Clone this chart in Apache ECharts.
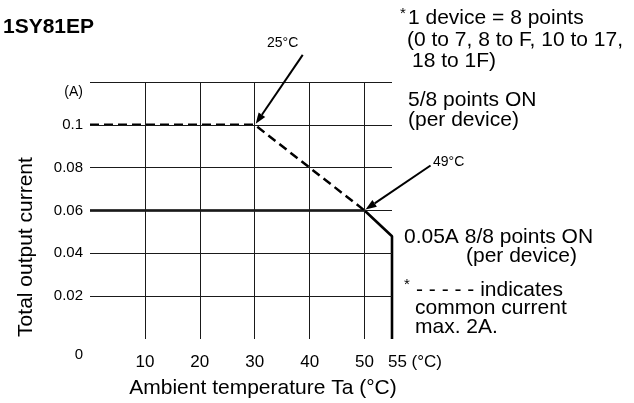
<!DOCTYPE html>
<html><head><meta charset="utf-8">
<script src="https://cdn.jsdelivr.net/npm/echarts@6/dist/echarts.min.js"></script>
<style>html,body{margin:0;padding:0;background:#fff}#c{width:634px;height:403px}</style>
</head><body><div id="c"></div>
<script>
// ---- data ----
const xGridValues = [10, 20, 30, 40, 50];
const yGridValues = [0.02, 0.04, 0.06, 0.08, 0.1, 0.12];
const fiveEightX = [0, 30, 50];          // 5/8 points ON (dashed)
const fiveEightY = [0.1, 0.1, 0.06];
const eightEightX = [0, 50, 55, 55];     // 8/8 points ON (solid)
const eightEightY = [0.06, 0.06, 0.048, 0];
const calloutLabels = ['25°C', '49°C'];
const calloutX = [30, 50];
const calloutY = [0.1, 0.06];

const FONT = '"Liberation Sans", Arial, sans-serif';
const chart = echarts.init(document.getElementById('c'));

function pairs(xs, ys) { return xs.map((x, i) => [x, ys[i]]); }

const gridLines = [];
yGridValues.forEach(v => gridLines.push([{coord: [0, v]}, {coord: [55, v]}]));
xGridValues.forEach(v => gridLines.push([{coord: [v, 0]}, {coord: [v, 0.12]}]));

function yFmt(v) {
  const r = Math.round(v * 100) / 100;
  if (r === 0) return '{z|0}';
  if (r === 0.12) return '{a|(A)}';
  return String(r);
}
function xFmt(v) {
  if (v === 55) return '{r|55 (°C)}';
  if (v > 0 && v % 10 === 0) return String(v);
  return '';
}

chart.setOption({
  animation: false,
  backgroundColor: '#fff',
  grid: {left: 90, right: 242, top: 82, bottom: 64},
  xAxis: {
    type: 'value', min: 0, max: 55, interval: 5,
    axisLine: {show: false}, axisTick: {show: false}, splitLine: {show: false},
    axisLabel: {
      formatter: xFmt, margin: 15, color: '#000', fontSize: 17, fontFamily: FONT,
      rich: {r: {fontSize: 17, fontFamily: FONT, color: '#000', padding: [0, 0, 0, 46]}}
    }
  },
  yAxis: {
    type: 'value', min: 0, max: 0.12, interval: 0.02,
    axisLine: {show: false}, axisTick: {show: false}, splitLine: {show: false},
    axisLabel: {
      formatter: yFmt, margin: 7, color: '#000', fontSize: 15, fontFamily: FONT,
      rich: {
        a: {fontSize: 14, fontFamily: FONT, color: '#000', padding: [20, 0, 0, 0]},
        z: {fontSize: 15, fontFamily: FONT, color: '#000', padding: [32, 0, 0, 0]}
      }
    }
  },
  series: [
    {
      type: 'line', data: [[0, 0]], showSymbol: false, silent: true, z: 1,
      lineStyle: {width: 0},
      markLine: {
        silent: true, symbol: ['none', 'none'], label: {show: false},
        lineStyle: {color: '#1a1a1a', width: 1, type: 'solid'},
        emphasis: {disabled: true},
        data: gridLines
      }
    },
    {
      type: 'line', data: [[fiveEightX[0], fiveEightY[0]], [fiveEightX[1] - 0.7, fiveEightY[1]]],
      showSymbol: false, silent: true, z: 2,
      lineStyle: {color: '#fff', width: 8}
    },
    {
      type: 'line', data: pairs(fiveEightX, fiveEightY), showSymbol: false, silent: true, z: 3,
      lineStyle: {color: '#000', width: 2.5, type: [9, 5]}
    },
    {
      type: 'line', data: pairs(eightEightX, eightEightY), showSymbol: false, silent: true, z: 3,
      lineStyle: {color: '#000', width: 2.6, type: 'solid'}
    }
  ]
});

// ---- annotations ----
const txt = (x, y, text, size, extra) => Object.assign({
  type: 'text', x: x, y: y, z: 10,
  style: Object.assign({text: text, fill: '#000', font: size + 'px ' + FONT, align: 'left', verticalAlign: 'middle'}, extra || {})
});

function arrow(head, dx, dy) {
  const tx = head[0] + dx, ty = head[1] + dy;
  const len = Math.hypot(dx, dy);
  const ux = -dx / len, uy = -dy / len; // direction tail->head
  const L = 11, W = 4;
  const bx = head[0] - ux * L, by = head[1] - uy * L;
  const px = -uy, py = ux;
  return [
    {type: 'line', z: 10, shape: {x1: tx, y1: ty, x2: bx, y2: by}, style: {stroke: '#000', lineWidth: 2}},
    {type: 'polygon', z: 10, shape: {points: [[head[0], head[1]], [bx + px * W, by + py * W], [bx - px * W, by - py * W]]}, style: {fill: '#000'}}
  ];
}

const tailOffsets = [[47, -69], [65, -44]];
const labelPos = [[267, 43], [433, 162]];
const g = [];
calloutLabels.forEach((lab, i) => {
  const p = chart.convertToPixel({gridIndex: 0}, [calloutX[i], calloutY[i]]);
  arrow([p[0] + 1, p[1] - 1], tailOffsets[i][0], tailOffsets[i][1]).forEach(e => g.push(e));
  g.push(txt(labelPos[i][0], labelPos[i][1], lab, 14));
});

g.push(txt(3, 27, '1SY81EP', 21, {font: 'bold 21px ' + FONT}));
g.push(txt(400, 14, '*', 15));
g.push(txt(408, 18, '1 device = 8 points', 21));
g.push(txt(407, 40, '(0 to 7, 8 to F, 10 to 17,', 21));
g.push(txt(412, 61, '18 to 1F)', 21));
g.push(txt(408, 100, '5/8 points ON', 21));
g.push(txt(408, 120, '(per device)', 21));
g.push(txt(404, 237, '0.05A 8/8 points ON', 21));
g.push(txt(466, 256, '(per device)', 21));
g.push(txt(404, 285, '*', 15));
g.push(txt(416, 290, '- - - - - indicates', 21));
g.push(txt(415, 308, 'common current', 21));
g.push(txt(415, 327, 'max. 2A.', 21));
g.push({type: 'text', x: 26, y: 247, rotation: Math.PI / 2, z: 10,
  style: {text: 'Total output current', fill: '#000', font: '21px ' + FONT, align: 'center', verticalAlign: 'middle'}});
g.push(txt(263, 388, 'Ambient temperature Ta (°C)', 21, {align: 'center'}));

chart.setOption({graphic: {elements: g}});
</script>
</body></html>
